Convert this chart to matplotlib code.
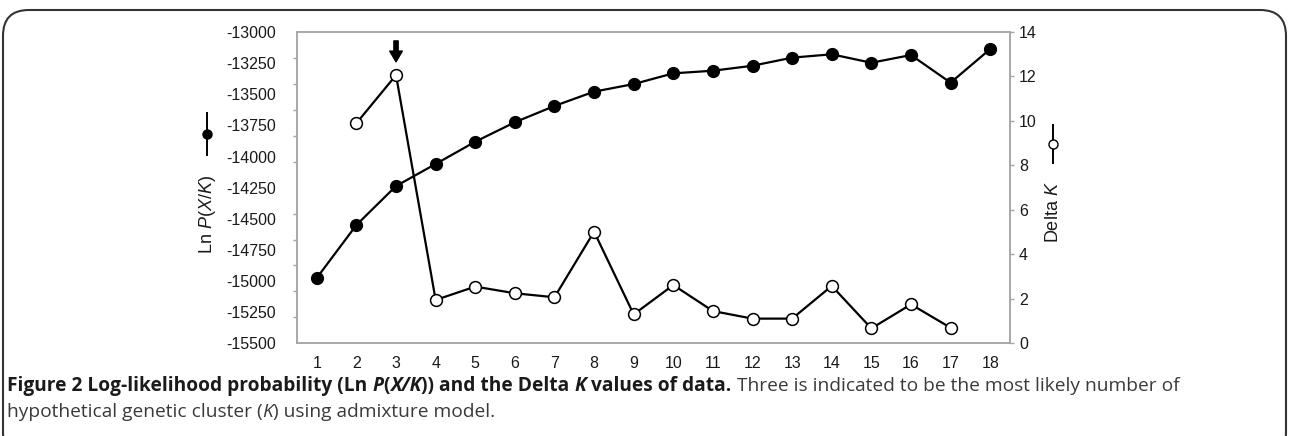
import matplotlib.pyplot as plt
import numpy as np
from matplotlib.lines import Line2D
from matplotlib.patches import FancyBboxPatch
from matplotlib.ticker import FixedLocator

# data
K = list(range(1, 19))
ln_p = [-14975, -14550, -14237, -14060, -13881, -13725, -13594, -13479, -13418,
        -13332, -13311, -13271, -13206, -13179, -13247, -13185, -13407, -13137]
K_delta = list(range(2, 18))
delta_k = [9.9, 12.06, 1.95, 2.55, 2.25, 2.07, 5.02, 1.30, 2.62,
           1.45, 1.11, 1.11, 2.58, 0.67, 1.75, 0.70]
left_ticks = list(range(-15500, -12999, 250))
right_ticks = list(range(0, 15, 2))
best_k = 3

plt.rcParams["font.family"] = ["Liberation Sans", "DejaVu Sans"]
plt.rcParams["mathtext.fontset"] = "custom"
plt.rcParams["mathtext.rm"] = "Liberation Sans"
plt.rcParams["mathtext.it"] = "Liberation Sans:italic"

W, H = 1290, 436
fig = plt.figure(figsize=(12.9, 4.36), dpi=100)
spine_col = "#a6a6a6"

ax = fig.add_axes([297 / W, 1 - 343.3 / H, (1010 - 297) / W, (343.3 - 32) / H])
ax2 = ax.twinx()

ax.plot(K, ln_p, color="black", lw=1.6, marker="o", ms=8.5,
        mfc="black", mec="black", zorder=3)
ax2.plot(K_delta, delta_k, color="black", lw=1.6, marker="o", ms=8.5,
         mfc="white", mec="black", mew=1.1, zorder=3)

ax.set_xlim(0.5, 18.5)
ax.set_ylim(-15500, -13000)
ax2.set_ylim(0, 14)

tick_fs = 11.5
ax.set_xticks(K)
ax.set_xticklabels([str(k) for k in K], fontsize=tick_fs)
ax.tick_params(axis="x", length=0, pad=9, labelcolor="#1a1a1a")
ax.set_yticks(left_ticks)
ax.set_yticklabels([str(v) for v in left_ticks], fontsize=tick_fs)
ax.tick_params(axis="y", which="major", length=0, pad=15, labelcolor="#1a1a1a")
ax.yaxis.set_minor_locator(FixedLocator(np.linspace(-15500, -13000, 13)))
ax.tick_params(axis="y", which="minor", length=3, width=1.0,
               color=spine_col, direction="out")
ax2.set_yticks(right_ticks)
ax2.set_yticklabels([str(v) for v in right_ticks], fontsize=tick_fs)
ax2.tick_params(axis="y", length=3, width=1.0, color=spine_col,
                direction="out", pad=3.5, labelcolor="#1a1a1a")

for a in (ax, ax2):
    for s in a.spines.values():
        s.set_color(spine_col)
        s.set_linewidth(1.1)

# arrow marking best K
ax2.annotate("", xy=(best_k, 12.66), xytext=(best_k, 13.6),
             arrowprops=dict(arrowstyle="simple,head_width=0.65,head_length=0.55,tail_width=0.22",
                             color="black", mutation_scale=14, shrinkA=0, shrinkB=0))

# axis labels with legend symbols
fig.text(207 / W, 1 - 215 / H, r"Ln $P$($X$/$K$)", rotation=90, fontsize=13,
         ha="center", va="center", color="#1a1a1a")
fig.add_artist(Line2D([207 / W, 207 / W], [1 - 113 / H, 1 - 155 / H],
                      color="black", lw=1.4, transform=fig.transFigure))
fig.add_artist(Line2D([207 / W], [1 - 134 / H], color="black", marker="o",
                      ms=6.5, mfc="black", transform=fig.transFigure))

fig.text(1053 / W, 1 - 212 / H, r"Delta $K$", rotation=90, fontsize=13,
         ha="center", va="center", color="#1a1a1a")
fig.add_artist(Line2D([1053 / W, 1053 / W], [1 - 125 / H, 1 - 163 / H],
                      color="black", lw=1.4, transform=fig.transFigure))
fig.add_artist(Line2D([1053 / W], [1 - 144 / H], color="black", marker="o",
                      ms=6.5, mfc="white", mew=1.0, transform=fig.transFigure))

# frame around figure + caption
frame = FancyBboxPatch((3 / W, -0.05), (1286 - 3) / W, 1 - 10 / H + 0.05,
                       boxstyle="round,pad=0,rounding_size=0.02",
                       transform=fig.transFigure, fill=False,
                       ec="#333333", lw=1.5, mutation_aspect=W / H)
fig.add_artist(frame)

renderer = fig.canvas.get_renderer()
cap_font = "Open Sans"
cap_size = 13.8


def put(x, y, s, weight="normal", style="normal", color="#3a3a3a"):
    t = fig.text(x, y, s, fontsize=cap_size, family=cap_font, weight=weight,
                 style=style, color=color, va="baseline", ha="left")
    bb = t.get_window_extent(renderer)
    return x + bb.width / W


y1 = 1 - 391 / H
y2 = 1 - 417 / H
x = 7 / W
bold = "#1a1a1a"
for s, st in [("Figure 2 Log-likelihood probability (Ln ", "normal"), ("P", "italic"),
              ("(", "normal"), ("X/K", "italic"), (")) and the Delta ", "normal"),
              ("K", "italic"), (" values of data.", "normal")]:
    x = put(x, y1, s, weight="bold", style=st, color=bold)
put(x, y1, " Three is indicated to be the most likely number of")
x = 7 / W
x = put(x, y2, "hypothetical genetic cluster (")
x = put(x, y2, "K", style="italic")
put(x, y2, ") using admixture model.")

fig.savefig("out.png", dpi=100)
